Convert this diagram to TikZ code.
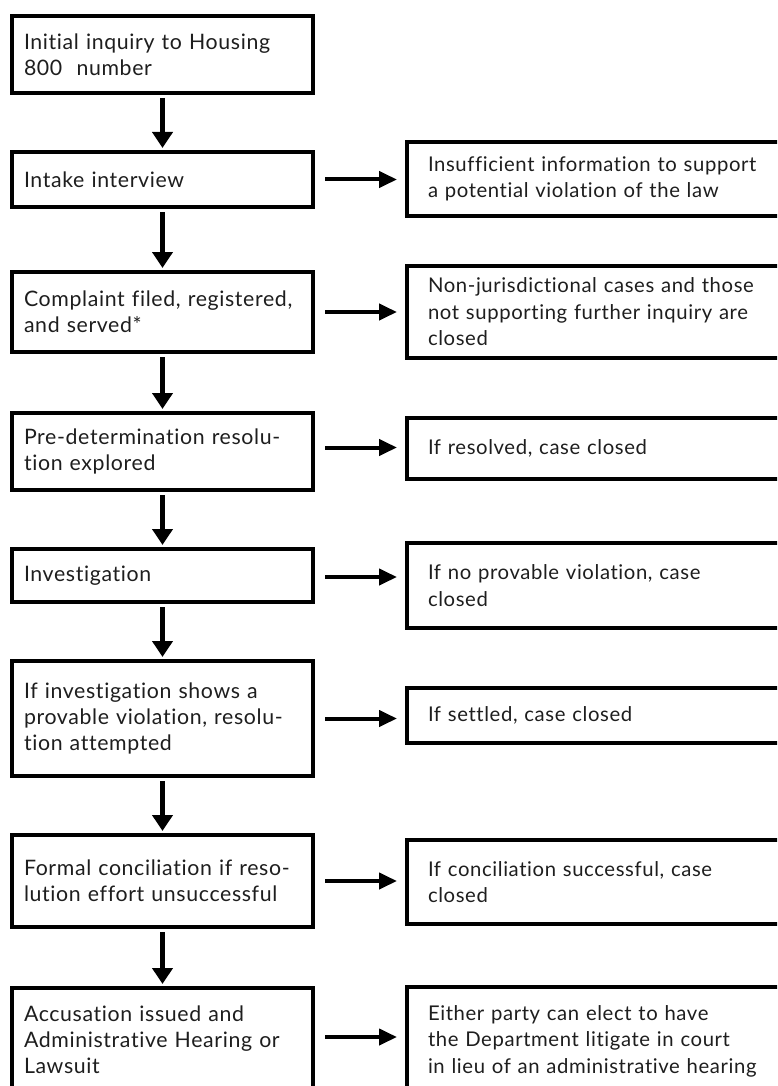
\documentclass[tikz,border=0pt]{standalone}
\usepackage{fontspec}
\setmainfont[LetterSpace=3,Ligatures=NoCommon]{Lato}
\usetikzlibrary{arrows.meta}
\definecolor{txt}{RGB}{30,30,30}
\tikzset{
  lbox/.style={draw=black, line width=3.6pt, rectangle, outer sep=0pt,
    minimum width=301pt, text width=277pt, inner xsep=12pt, inner ysep=0pt,
    align=left, text=txt, font=\fontsize{21.3}{26}\selectfont},
  rbox/.style={draw=black, line width=3.6pt, rectangle, outer sep=0pt,
    minimum width=423pt, text width=381pt, inner xsep=21pt, inner ysep=0pt,
    align=left, text=txt, font=\fontsize{20.3}{26.5}\selectfont},
  darrow/.style={line width=4.5pt, -{Triangle[width=20pt,length=16pt]},
    shorten <=5pt, shorten >=4pt},
  rarrow/.style={line width=4pt, -{Triangle[width=16pt,length=18pt]},
    shorten <=12pt, shorten >=10pt}
}
\begin{document}
\begin{tikzpicture}[x=1pt,y=-1pt]
\useasboundingbox (0,0) rectangle (777,1086);
\clip (0,0) rectangle (777,1086);
\fill[white] (0,0) rectangle (777,1086);
% left column
\node[lbox, minimum height=77pt]  (L1) at (162.5,54.5)  {Initial inquiry to Housing\\800~ number};
\node[lbox, minimum height=55pt]  (L2) at (162.5,179.5) {Intake interview};
\node[lbox, minimum height=80pt]  (L3) at (162.5,312)   {Complaint filed, registered,\\and served*};
\node[lbox, minimum height=77pt]  (L4) at (162.5,451.5) {Pre-determination resolu-\\tion explored};
\node[lbox, minimum height=53pt]  (L5) at (162.5,575.5) {Investigation};
\node[lbox, minimum height=115pt] (L6) at (162.5,718.5) {If investigation shows a\\provable violation, resolu-\\tion attempted};
\node[lbox, minimum height=92pt]  (L7) at (162.5,881)   {Formal conciliation if reso-\\lution effort unsuccessful};
\node[lbox, minimum height=104pt] (L8) at (162.5,1040)  {Accusation issued and\\Administrative Hearing or\\Lawsuit};
% right column
\node[rbox, minimum height=74pt]  (R2) at (618.5,179)   {Insufficient information to support\\a potential violation of the law};
\node[rbox, minimum height=92pt]  (R3) at (618.5,312)   {Non-jurisdictional cases and those\\not supporting further inquiry are\\closed};
\node[rbox, minimum height=61pt]  (R4) at (618.5,448.5) {If resolved, case closed};
\node[rbox, minimum height=85pt]  (R5) at (618.5,585.5) {If no provable violation, case\\closed};
\node[rbox, minimum height=55pt]  (R6) at (618.5,715.5) {If settled, case closed};
\node[rbox, minimum height=84pt]  (R7) at (618.5,882)   {If conciliation successful, case\\closed};
\node[rbox, minimum height=108pt] (R8) at (618.5,1041)  {Either party can elect to have\\the Department litigate in court\\in lieu of an administrative hearing};
% down arrows
\draw[darrow] (L1) -- (L2);
\draw[darrow] (L2) -- (L3);
\draw[darrow] (L3) -- (L4);
\draw[darrow] (L4) -- (L5);
\draw[darrow] (L5) -- (L6);
\draw[darrow] (L6) -- (L7);
\draw[darrow] (L7) -- (L8);
% right arrows
\draw[rarrow] (L2.east) -- (L2.east -| R2.west);
\draw[rarrow] (L3.east) -- (L3.east -| R3.west);
\draw[rarrow] ([yshift=4pt]L4.east) -- ([yshift=4pt]L4.east -| R4.west);
\draw[rarrow] ([yshift=-1.5pt]L5.east) -- ([yshift=-1.5pt]L5.east -| R5.west);
\draw[rarrow] (L6.east) -- (L6.east -| R6.west);
\draw[rarrow] (L7.east) -- (L7.east -| R7.west);
\draw[rarrow] ([yshift=3pt]L8.east) -- ([yshift=3pt]L8.east -| R8.west);
\end{tikzpicture}
\end{document}
